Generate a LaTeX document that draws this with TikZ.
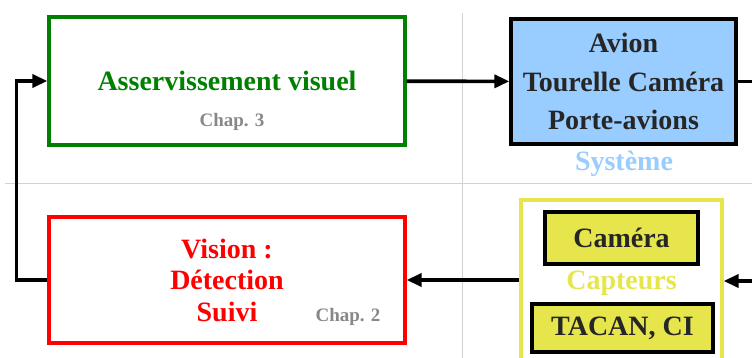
\documentclass[tikz,border=0pt]{standalone}
\usepackage{fontspec}
\setmainfont{Liberation Serif}
\usetikzlibrary{arrows.meta}
\definecolor{vert}{RGB}{0,128,0}
\definecolor{rouge}{RGB}{255,0,0}
\definecolor{ciel}{RGB}{153,204,255}
\definecolor{jaune}{RGB}{230,230,76}
\definecolor{gris}{RGB}{136,136,136}
\definecolor{trait}{RGB}{210,210,210}
\tikzset{bloc/.style={rectangle,draw,line width=3.3pt,align=center,inner sep=0pt,
font=\fontsize{28}{31.5}\selectfont\bfseries},
asserv/.style={bloc,draw=vert,text=vert,minimum width=356pt,minimum height=128pt},
vision/.style={bloc,draw=rouge,text=rouge,minimum width=356pt,minimum height=126pt},
systeme/.style={bloc,fill=ciel,text=black!85,minimum width=225pt,minimum height=125pt,
font=\fontsize{28}{38.5}\selectfont\bfseries},
capteurs/.style={bloc,draw=jaune,text=jaune,minimum width=201pt,minimum height=166pt},
capt/.style={bloc,fill=jaune,text=black!85},
chap/.style={font=\fontsize{19}{19}\selectfont\bfseries,text=gris},
->/.style={line width=3.6pt,-{Triangle[length=15pt,width=13pt]}}}
\begin{document}
\begin{tikzpicture}[x=1pt,y=-1pt]
  \clip (0,0) rectangle (752,358);
  \draw [trait,line width=1pt] (5,183.5) -- (752,183.5);
  \draw [trait,line width=1pt] (462.5,13) -- (462.5,358);
  \node (as) [asserv] at (227,81) {Asservissement visuel};
  \node (ch3) [chap] at (232,122) {Chap. 3};
  \node (sys) [systeme] at (623.5,81.5) {Avion\\Tourelle Caméra\\Porte-avions};
  \node (lsys) [chap,text=ciel,font=\fontsize{28}{28}\selectfont\bfseries] at (624,164) {Système};
  \node (vis) [vision] at (227,280) {Vision :\\Détection\\Suivi};
  \node (ch2) [chap] at (348,317) {Chap. 2};
  \node (cap) [capteurs] at (621.5,283) {Capteurs};
  \node (cam) [capt,minimum width=153pt,minimum height=52pt] at (621.5,238) {Caméra};
  \node (tac) [capt,minimum width=181pt,minimum height=48pt] at (622.5,328) {TACAN, CI};
  \coordinate (sortie) at (760,81.5);
  \coordinate (entree) at (760,281);
  \draw [->] (as) -- (sys);
  \draw [line width=3.6pt] (sys) -- (sortie);
  \draw [->] (entree) -- (cap.east |- entree);
  \draw [->] (cap.west |- vis) -- (vis);
  \draw [->] (vis.west) -- ++(-31,0) |- (as.west);
\end{tikzpicture}
\end{document}
